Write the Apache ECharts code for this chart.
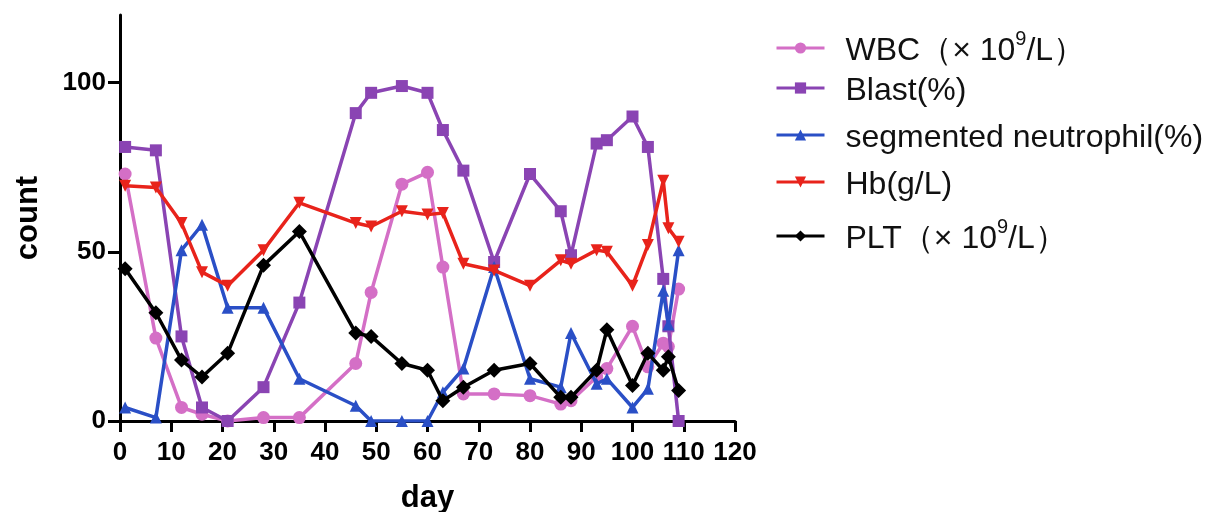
<!DOCTYPE html>
<html><head><meta charset="utf-8">
<script src="https://cdn.jsdelivr.net/npm/echarts@6/dist/echarts.min.js"></script>
<style>html,body{margin:0;padding:0;background:#fff}#c{width:1220px;height:512px}</style>
</head><body><div id="c"></div>
<script>
const days = [1, 7, 12, 16, 21, 28, 35, 46, 49, 55, 60, 63, 67, 73, 80, 86, 88, 93, 95, 100, 103, 106, 107, 109];
const wbc   = [73, 24.5, 4, 2, 0, 1, 1, 17, 38, 70, 73.5, 45.5, 8, 8, 7.5, 5, 6, 13, 15.5, 28, 16, 23, 22, 39];
const blast = [81, 80, 25, 4, 0, 10, 35, 91, 97, 99, 97, 86, 74, 47, 73, 62, 49, 82, 83, 90, 81, 42, 28, 0];
const neut  = [4, 1, 50.5, 58, 33.5, 33.5, 12.5, 4.5, 0, 0, 0, 8.5, 15.5, 45.5, 12.5, 10, 26, 11, 12.5, 4, 9.5, 38.5, 28.5, 50.5];
const hb    = [69.5, 69, 58.5, 44, 40, 50.5, 64.5, 58.5, 57.5, 62, 61, 61.5, 46.5, 44.5, 40, 47.5, 46.5, 50.5, 50, 40, 52, 71, 57, 53];
const plt   = [45, 32, 18, 13, 20, 46, 56, 26, 25, 17, 15, 6, 10, 15, 17, 7, 7, 15, 27, 10.5, 20, 15, 19, 9];
const yTicks = [0, 50, 100];
const names = ['WBC', 'Blast(%)', 'segmented neutrophil(%)', 'Hb(g/L)', 'PLT'];
const colors = ['#d46fc6', '#8a44b3', '#2a4fc6', '#e8231b', '#000000'];
const symbols = ['circle', 'rect', 'triangle', 'triangle', 'diamond'];
const rotates = [0, 0, 0, 180, 0];
const values = [wbc, blast, neut, hb, plt];

const pair = arr => days.map((d, i) => [d, arr[i]]);
const series = values.map((v, k) => ({
  name: names[k], type: 'line', data: pair(v),
  symbol: symbols[k], symbolRotate: rotates[k], symbolSize: k === 4 ? 15 : (k === 0 ? 13 : 12),
  lineStyle: {width: 3.5, color: colors[k]},
  itemStyle: {color: colors[k]},
  z: 2 + k
}));

const legendTops = [24, 70, 117, 164, 212];
const rich = {
  a: {fontSize: 32, fontFamily: 'Liberation Sans', color: '#111', padding: [6,0,0,16]},
  b: {fontSize: 32, fontFamily: 'Liberation Sans', color: '#111', padding: [6,0,0,0]},
  s: {fontSize: 20, fontFamily: 'Liberation Sans', color: '#111', verticalAlign: 'top'}
};
const legends = names.map((n, k) => ({
  data: [{name: n, itemStyle: {borderWidth: 0}}], left: 770, top: legendTops[k], orient: 'vertical',
  itemWidth: 48, itemHeight: 14, itemGap: 0,
  lineStyle: {width: 3},
  formatter: name => {
    if (name === 'WBC') return '{a|WBC（× 10}{s|9}{b|/L）}';
    if (name === 'PLT') return '{a|PLT（× 10}{s|9}{b|/L）}';
    return '{a|' + name + '}';
  },
  textStyle: {fontSize: 32, fontFamily: 'Liberation Sans', color: '#111', rich: rich}
}));

const chart = echarts.init(document.getElementById('c'));
chart.setOption({
  backgroundColor: '#fff',
  animation: false,
  legend: legends,
  grid: {left: 120, right: 485, top: 15, bottom: 91, containLabel: false, outerBoundsMode: 'none'},
  xAxis: {
    type: 'value', min: 0, max: 120, interval: 10,
    name: 'day', nameLocation: 'middle', nameGap: 62,
    nameTextStyle: {fontSize: 31, fontWeight: 'bold', fontFamily: 'Liberation Sans', color: '#000'},
    axisLine: {show: true, lineStyle: {color: '#000', width: 3}},
    axisTick: {show: true, length: 11, lineStyle: {color: '#000', width: 3}},
    axisLabel: {fontSize: 26, fontWeight: 'bold', fontFamily: 'Liberation Sans', color: '#000', margin: 19},
    splitLine: {show: false}
  },
  yAxis: {
    type: 'value', min: 0, max: 120, interval: 50,
    name: 'count', nameLocation: 'middle', nameGap: 76, nameRotate: 90,
    nameTextStyle: {fontSize: 31, fontWeight: 'bold', fontFamily: 'Liberation Sans', color: '#000'},
    axisLine: {show: true, lineStyle: {color: '#000', width: 3}},
    axisTick: {show: true, length: 12, customValues: yTicks, lineStyle: {color: '#000', width: 3}},
    axisLabel: {fontSize: 26, fontWeight: 'bold', fontFamily: 'Liberation Sans', color: '#000', margin: 14, customValues: yTicks},
    splitLine: {show: false}
  },
  series: series
});
</script></body></html>
